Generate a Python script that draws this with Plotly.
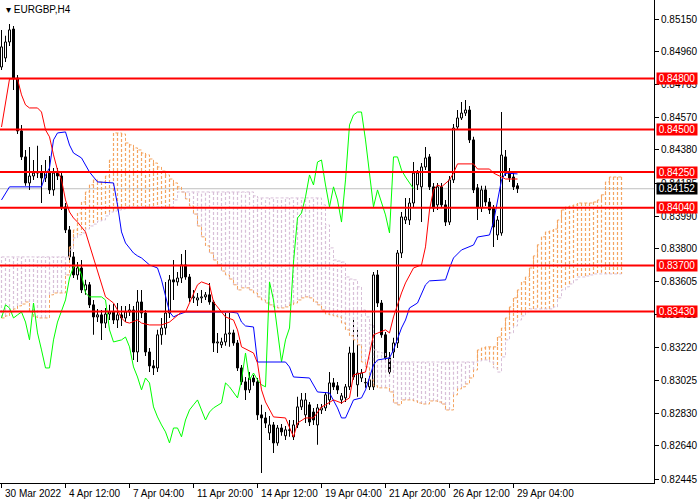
import plotly.graph_objects as go

# ---------------- data (EURGBP, H4) ----------------
open_ = [0.84868,0.84921,0.85015,0.85091,0.84803,0.84492,0.84339,0.84186,0.84227,0.84244,
         0.84250,0.84215,0.84250,0.84145,0.84244,0.84227,0.84045,0.83910,0.83751,0.83645,
         0.83686,0.83557,0.83587,0.83469,0.83398,0.83410,0.83362,0.83415,0.83427,0.83380,
         0.83410,0.83392,0.83427,0.83439,0.83192,0.83486,0.83421,0.83192,0.83110,0.83098,
         0.83293,0.83333,0.83421,0.83616,0.83604,0.83627,0.83704,0.83633,0.83510,0.83498,
         0.83510,0.83516,0.83528,0.83486,0.83245,0.83234,0.83251,0.83298,0.83304,0.83245,
         0.83098,0.83016,0.82969,0.83039,0.83016,0.82822,0.82804,0.82716,0.82763,0.82657,
         0.82745,0.82699,0.82734,0.82693,0.82763,0.82869,0.82822,0.82881,0.82839,0.82763,
         0.82851,0.82863,0.82910,0.83010,0.82993,0.82910,0.82922,0.82987,0.83186,0.82999,
         0.83039,0.83010,0.82987,0.82987,0.83645,0.83480,0.83293,0.83157,0.83192,0.83245,
         0.83774,0.83968,0.83968,0.84068,0.84175,0.84163,0.84280,0.84339,0.84163,0.84057,
         0.84163,0.84057,0.83956,0.84204,0.84515,0.84568,0.84597,0.84615,0.84439,0.84157,
         0.84039,0.84145,0.84074,0.84039,0.83880,0.83892,0.84339,0.84244,0.84221,0.84169]
high = [0.85086,0.85051,0.85120,0.85109,0.84821,0.84527,0.84380,0.84398,0.84321,0.84404,
        0.84292,0.84321,0.84345,0.84274,0.84274,0.84250,0.84068,0.83933,0.83780,0.83721,
        0.83733,0.83616,0.83604,0.83498,0.83445,0.83439,0.83451,0.83469,0.83474,0.83480,
        0.83463,0.83463,0.83474,0.83463,0.83557,0.83557,0.83439,0.83216,0.83145,0.83322,
        0.83392,0.83604,0.83645,0.83733,0.83662,0.83768,0.83792,0.83650,0.83557,0.83539,
        0.83557,0.83545,0.83598,0.83498,0.83304,0.83275,0.83421,0.83421,0.83322,0.83263,
        0.83116,0.83045,0.83074,0.83057,0.83039,0.82881,0.82839,0.82816,0.82780,0.82763,
        0.82768,0.82757,0.82792,0.82792,0.82928,0.82951,0.82951,0.82898,0.82863,0.82886,
        0.82886,0.82957,0.83074,0.83039,0.83016,0.82951,0.83004,0.83222,0.83380,0.83322,
        0.83092,0.83039,0.83051,0.83662,0.83674,0.83498,0.83310,0.83192,0.83275,0.83792,
        0.84015,0.84098,0.84098,0.84309,0.84262,0.84303,0.84398,0.84356,0.84186,0.84186,
        0.84186,0.84086,0.84227,0.84532,0.84615,0.84662,0.84674,0.84639,0.84457,0.84180,
        0.84169,0.84169,0.84098,0.84057,0.83992,0.84603,0.84380,0.84274,0.84250,0.84186]
low = [0.84850,0.84897,0.84992,0.84733,0.84474,0.84321,0.84169,0.84145,0.84204,0.84215,
       0.84068,0.84192,0.84121,0.84110,0.84204,0.84027,0.83892,0.83733,0.83627,0.83616,
       0.83539,0.83528,0.83451,0.83293,0.83368,0.83263,0.83333,0.83380,0.83356,0.83333,
       0.83345,0.83368,0.83404,0.83145,0.83133,0.83392,0.83169,0.83074,0.83057,0.83074,
       0.83234,0.83293,0.83392,0.83498,0.83581,0.83598,0.83616,0.83486,0.83480,0.83463,
       0.83480,0.83498,0.83469,0.83192,0.83186,0.83216,0.83228,0.83222,0.83228,0.83080,
       0.82999,0.82910,0.82951,0.82993,0.82792,0.82480,0.82745,0.82675,0.82598,0.82640,
       0.82699,0.82675,0.82693,0.82675,0.82745,0.82851,0.82774,0.82757,0.82763,0.82646,
       0.82827,0.82845,0.82881,0.82969,0.82945,0.82886,0.82898,0.82969,0.83028,0.82928,
       0.83016,0.82981,0.82969,0.82969,0.83457,0.83275,0.83133,0.83057,0.83157,0.83216,
       0.83745,0.83944,0.83939,0.84045,0.84145,0.83956,0.84262,0.84145,0.84015,0.84027,
       0.84039,0.83933,0.83939,0.84186,0.84498,0.84556,0.84580,0.84421,0.84127,0.83968,
       0.84015,0.84051,0.84004,0.83810,0.83851,0.83875,0.84227,0.84192,0.84145,0.84127]
close = [0.84986,0.85015,0.85086,0.84803,0.84492,0.84339,0.84186,0.84227,0.84244,0.84250,
         0.84215,0.84250,0.84145,0.84244,0.84227,0.84045,0.83910,0.83751,0.83645,0.83686,
         0.83557,0.83587,0.83469,0.83398,0.83410,0.83362,0.83415,0.83427,0.83380,0.83410,
         0.83392,0.83427,0.83439,0.83192,0.83486,0.83421,0.83192,0.83110,0.83098,0.83293,
         0.83333,0.83421,0.83616,0.83604,0.83627,0.83704,0.83633,0.83510,0.83516,0.83510,
         0.83516,0.83528,0.83486,0.83245,0.83251,0.83251,0.83298,0.83304,0.83245,0.83098,
         0.83016,0.82969,0.83039,0.83016,0.82822,0.82804,0.82774,0.82763,0.82657,0.82745,
         0.82722,0.82734,0.82731,0.82763,0.82869,0.82910,0.82910,0.82780,0.82792,0.82863,
         0.82863,0.82940,0.83010,0.82987,0.82969,0.82934,0.82987,0.83186,0.83045,0.83068,
         0.83068,0.83013,0.83028,0.83645,0.83480,0.83293,0.83157,0.83074,0.83245,0.83774,
         0.83986,0.83986,0.84068,0.84244,0.84244,0.84280,0.84333,0.84163,0.84039,0.84163,
         0.84057,0.83956,0.84204,0.84509,0.84568,0.84597,0.84615,0.84439,0.84145,0.84039,
         0.84145,0.84074,0.84027,0.83927,0.83968,0.84350,0.84244,0.84215,0.84163,0.84152]
bars = list(range(len(close)))

# Tenkan-sen (red)
tenkan_idx = [0,2,4,5,6,7,9,10,11,12,13,14,15,16,17,18,19,21,22,23,24,25,26,27,28,29,30,31,32,34,
              35,37,40,42,45,46,48,49,50,52,53,54,56,58,59,60,63,64,65,66,68,71,73,74,76,78,80,81,83,85,
              87,88,91,93,96,97,98,100,101,103,105,106,107,108,109,110,112,113,114,118,119,122,123,125,126,129]
tenkan_val = [0.84515,0.84797,0.84797,0.84704,0.84645,0.84627,0.84627,0.84603,0.84498,0.84457,
              0.84351,0.84262,0.84204,0.84086,0.84015,0.83980,0.83956,0.83898,0.83821,0.83745,
              0.83674,0.83598,0.83516,0.83498,0.83480,0.83439,0.83392,0.83368,0.83362,0.83380,
              0.83362,0.83351,0.83351,0.83368,0.83427,0.83427,0.83539,0.83587,0.83604,0.83587,
              0.83486,0.83457,0.83398,0.83380,0.83322,0.83222,0.83186,0.83127,0.82969,0.82898,
              0.82810,0.82804,0.82693,0.82774,0.82804,0.82804,0.82869,0.82881,0.82910,0.82892,
              0.82922,0.83057,0.83074,0.83293,0.83322,0.83304,0.83398,0.83539,0.83598,0.83686,
              0.83704,0.83810,0.84027,0.84145,0.84174,0.84163,0.84204,0.84244,0.84298,0.84298,
              0.84268,0.84268,0.84244,0.84221,0.84209,0.84209]

# Kijun-sen (blue)
kijun_idx = [0,2,10,11,12,13,14,16,17,18,20,22,24,28,29,30,31,33,34,35,
             37,39,40,41,42,43,44,46,57,59,60,61,63,64,71,72,73,77,79,82,
             84,85,86,88,90,91,93,94,97,98,99,100,101,102,104,105,106,107,111,112,
             113,115,118,119,122,123,124,125,126,129]
kijun_val = [0.84086,0.84163,0.84163,0.84233,0.84274,0.84439,0.84480,0.84486,0.84409,0.84362,
             0.84333,0.84250,0.84192,0.84186,0.84057,0.83898,0.83833,0.83774,0.83757,0.83745,
             0.83704,0.83686,0.83616,0.83528,0.83427,0.83398,0.83410,0.83427,0.83427,0.83421,
             0.83368,0.83345,0.83339,0.83133,0.83133,0.83104,0.83045,0.83039,0.82957,0.82951,
             0.82863,0.82804,0.82804,0.82910,0.82922,0.82969,0.83116,0.83145,0.83157,0.83204,
             0.83263,0.83333,0.83380,0.83451,0.83480,0.83539,0.83587,0.83610,0.83616,0.83686,
             0.83745,0.83792,0.83821,0.83868,0.83880,0.83956,0.84086,0.84204,0.84244,0.84239]

# Chikou span (green)
chikou_idx = [0,1,2,3,4,5,6,7,8,9,10,11,12,13,14,15,16,17,18,19,20,21,22,
              25,26,27,28,
              30,31,32,33,34,35,36,37,38,39,40,41,42,43,44,45,46,47,48,49,50,51,52,53,
              55,56,57,
              59,60,61,62,63,64,65,66,67,68,69,70,71,72,73,74,75,76,77,78,79,80,81,
              82,83,84,85,86,87,88,89,90,91,92,93,94,95,96,97,98,99,100,101,102,103]
chikou_val = [0.83392,0.83469,0.83451,0.83392,0.83410,0.83427,0.83368,0.83263,0.83480,0.83304,
              0.83204,0.83098,0.83098,0.83263,0.83368,0.83439,0.83498,0.83627,0.83692,0.83704,
              0.83645,0.83539,0.83516,
              0.83516,0.83498,0.83322,0.83251,
              0.83263,0.83280,0.83222,0.83104,0.83045,0.82969,0.83039,0.83010,0.82869,0.82810,
              0.82763,0.82722,0.82657,0.82745,0.82745,0.82693,0.82792,0.82851,0.82881,0.82910,
              0.82851,0.82792,0.82839,0.82863,
              0.82892,0.83010,0.82987,
              0.82922,0.83028,0.83186,0.83028,0.83068,0.83028,0.82999,0.82987,0.83604,0.83498,
              0.83322,0.83133,0.83263,0.83333,0.83721,0.83980,0.84009,0.84104,0.84233,0.84174,
              0.84309,0.84321,0.84174,0.84045,0.84163,0.84086,0.83956,0.84204,0.84527,0.84586,
              0.84603,0.84603,0.84439,0.84233,0.84045,0.84145,0.84068,0.83998,0.83892,0.84339,
              0.84339,0.84262,0.84221,0.84186,0.84152]

# Senkou span A / B (cloud, shifted forward)
span_a = [0.83392,0.83404,0.83427,0.83445,0.83463,0.83474,0.83486,0.83427,0.83398,0.83392,
          0.83392,0.83392,0.83528,0.83539,0.83539,0.83539,0.83645,0.83810,0.83910,0.84009,
          0.84074,0.84133,0.84175,0.84204,0.84192,0.84192,0.84227,0.84321,0.84480,0.84480,
          0.84474,0.84421,0.84410,0.84392,0.84380,0.84362,0.84351,0.84327,0.84303,0.84280,
          0.84256,0.84233,0.84209,0.84186,0.84163,0.84133,0.84092,0.84051,0.84003,0.83933,
          0.83869,0.83816,0.83774,0.83733,0.83704,0.83668,0.83645,0.83621,0.83587,0.83557,
          0.83569,0.83569,0.83557,0.83539,0.83516,0.83498,0.83480,0.83469,0.83457,0.83451,
          0.83451,0.83457,0.83469,0.83480,0.83498,0.83510,0.83516,0.83510,0.83486,0.83469,
          0.83439,0.83415,0.83410,0.83404,0.83398,0.83362,0.83322,0.83287,0.83263,0.83234,
          0.83133,0.83104,0.83028,0.82993,0.82981,0.82981,0.82981,0.82957,0.82892,0.82881,
          0.82910,0.82910,0.82910,0.82904,0.82892,0.82886,0.82886,0.82904,0.82904,0.82898,
          0.82886,0.82851,0.82851,0.82940,0.82975,0.82987,0.83004,0.83039,0.83086,0.83204,
          0.83216,0.83222,0.83222,0.83222,0.83280,0.83333,0.83392,0.83457,0.83510,0.83557,
          0.83604,0.83633,0.83686,0.83757,0.83822,0.83869,0.83898,0.83904,0.83915,0.83968,
          0.84027,0.84045,0.84051,0.84057,0.84068,0.84068,0.84068,0.84068,0.84074,0.84086,
          0.84116,0.84192,0.84221,0.84221,0.84221,0.84221]
span_b = [0.83751,0.83751,0.83751,0.83751,0.83751,0.83751,0.83751,0.83751,0.83751,0.83751,
          0.83751,0.83751,0.83751,0.83751,0.83751,0.83751,0.83751,0.83792,0.83863,0.83881,
          0.83892,0.83915,0.83933,0.83944,0.83962,0.83968,0.83992,0.84015,0.84021,0.84027,
          0.84033,0.84045,0.84045,0.84045,0.84045,0.84045,0.84045,0.84045,0.84045,0.84045,
          0.84045,0.84045,0.84045,0.84086,0.84133,0.84133,0.84133,0.84133,0.84133,0.84133,
          0.84133,0.84133,0.84133,0.84133,0.84133,0.84133,0.84133,0.84133,0.84133,0.84133,
          0.84133,0.84133,0.84133,0.84110,0.84098,0.84098,0.84098,0.84098,0.84098,0.84098,
          0.84098,0.84098,0.84098,0.84098,0.84098,0.84098,0.84098,0.84098,0.84098,0.84098,
          0.84057,0.83939,0.83804,0.83733,0.83727,0.83721,0.83633,0.83621,0.83616,0.83575,
          0.83439,0.83398,0.83351,0.83204,0.83192,0.83186,0.83157,0.83145,0.83133,0.83133,
          0.83133,0.83133,0.83133,0.83133,0.83133,0.83133,0.83133,0.83133,0.83133,0.83133,
          0.83133,0.83133,0.83133,0.83133,0.83133,0.83133,0.83133,0.83133,0.83133,0.83139,
          0.83145,0.83145,0.83133,0.83098,0.83074,0.83163,0.83263,0.83304,0.83345,0.83380,
          0.83404,0.83427,0.83445,0.83445,0.83445,0.83445,0.83445,0.83445,0.83457,0.83510,
          0.83557,0.83575,0.83592,0.83616,0.83633,0.83633,0.83639,0.83645,0.83651,0.83651,
          0.83651,0.83651,0.83651,0.83651,0.83651,0.83651]
cloud_bars = list(range(len(span_a)))

levels = [0.84800, 0.84500, 0.84250, 0.84040, 0.83700, 0.83430]
level_text = ["0.84800", "0.84500", "0.84250", "0.84040", "0.83700", "0.83430"]
last_price = 0.84152
last_text = "0.84152"

y_ticks = [0.85150,0.84960,0.84765,0.84570,0.84380,0.84185,0.83990,0.83800,
           0.83605,0.83410,0.83220,0.83025,0.82830,0.82640,0.82445]
y_tick_text = ["0.85150","0.84960","0.84765","0.84570","0.84380","0.84185","0.83990","0.83800",
               "0.83605","0.83410","0.83220","0.83025","0.82830","0.82640","0.82445"]
x_tick_bars = [0, 16, 32, 48, 64, 80, 96, 112, 128]
x_tick_text = ["30 Mar 2022", "4 Apr 12:00", "7 Apr 04:00", "11 Apr 20:00", "14 Apr 12:00",
               "19 Apr 04:00", "21 Apr 20:00", "26 Apr 12:00", "29 Apr 04:00"]

# ---------------- colours / fonts ----------------
ORANGE = "#F4A460"
THISTLE = "#D8BFD8"
FONT = "Liberation Sans"

fig = go.Figure()

# cloud hatching (vertical dashed lines per bar)
hx_up, hy_up, hx_dn, hy_dn = [], [], [], []
for b, a, s in zip(cloud_bars, span_a, span_b):
    if a >= s:
        hx_up += [b, b, None]; hy_up += [a, s, None]
    else:
        hx_dn += [b, b, None]; hy_dn += [a, s, None]
fig.add_trace(go.Scatter(x=hx_up, y=hy_up, mode="lines",
                         line=dict(color=ORANGE, width=1.2, dash="3px,2px"),
                         hoverinfo="skip", showlegend=False))
fig.add_trace(go.Scatter(x=hx_dn, y=hy_dn, mode="lines",
                         line=dict(color=THISTLE, width=1.2, dash="3px,2px"),
                         hoverinfo="skip", showlegend=False))
fig.add_trace(go.Scatter(x=cloud_bars, y=span_a, mode="lines", line_shape="hv",
                         line=dict(color=ORANGE, width=1, dash="3px,2px"),
                         hoverinfo="skip", showlegend=False))
fig.add_trace(go.Scatter(x=cloud_bars, y=span_b, mode="lines", line_shape="hv",
                         line=dict(color=THISTLE, width=1, dash="3px,2px"),
                         hoverinfo="skip", showlegend=False))

# candles: wicks (thin bars) then bodies, both in the bar layer (drawn in trace order)
wick_len = [h - l for h, l in zip(high, low)]
fig.add_trace(go.Bar(x=bars, y=wick_len, base=low, width=0.25,
                     marker=dict(color="black", line=dict(width=0)),
                     hoverinfo="skip", showlegend=False))
body_base = [min(o, c) for o, c in zip(open_, close)]
body_len = [max(abs(c - o), 0.000015) for o, c in zip(open_, close)]
body_fill = ["white" if c >= o else "black" for o, c in zip(open_, close)]
fig.add_trace(go.Bar(x=bars, y=body_len, base=body_base, width=0.5,
                     marker=dict(color=body_fill, line=dict(color="black", width=1)),
                     hoverinfo="skip", showlegend=False))

# ichimoku lines
fig.add_trace(go.Scatter(x=chikou_idx, y=chikou_val, mode="lines",
                         line=dict(color="#00FF00", width=1), showlegend=False, hoverinfo="skip"))
fig.add_trace(go.Scatter(x=kijun_idx, y=kijun_val, mode="lines",
                         line=dict(color="#0000FF", width=1), showlegend=False, hoverinfo="skip"))
fig.add_trace(go.Scatter(x=tenkan_idx, y=tenkan_val, mode="lines",
                         line=dict(color="#FF0000", width=1), showlegend=False, hoverinfo="skip"))

shapes = [dict(type="line", xref="paper", x0=0, x1=1, yref="y", y0=last_price, y1=last_price,
               line=dict(color="#C0C0C0", width=1), layer="below")]
for lv in levels:
    shapes.append(dict(type="line", xref="paper", x0=0, x1=1, yref="y", y0=lv, y1=lv,
                       line=dict(color="#FF0000", width=2), layer="above"))

annotations = []
for lv, t in zip(levels, level_text):
    annotations.append(dict(x=1, xref="paper", y=lv, yref="y", xanchor="left", yanchor="middle",
                            xshift=2, text=t, showarrow=False, bgcolor="#FF0000",
                            font=dict(family=FONT, size=10, color="white"),
                            width=40, height=11, borderpad=0))
annotations.append(dict(x=1, xref="paper", y=last_price, yref="y", xanchor="left", yanchor="middle",
                        xshift=2, text=last_text, showarrow=False, bgcolor="black",
                        font=dict(family=FONT, size=10, color="white"),
                        width=40, height=11, borderpad=0))
for b, t in zip(x_tick_bars, x_tick_text):
    annotations.append(dict(x=b, xref="x", y=0, yref="paper", xanchor="left", yanchor="top",
                            yshift=-3, xshift=1, text=t, showarrow=False,
                            font=dict(family=FONT, size=10, color="black")))
annotations.append(dict(x=0, xref="paper", y=1, yref="paper", xanchor="left", yanchor="top",
                        xshift=4, yshift=-2, text="▾ EURGBP,H4", showarrow=False,
                        font=dict(family=FONT, size=10, color="black")))

fig.update_layout(
    width=700, height=500,
    margin=dict(l=0, r=46, t=0, b=17),
    paper_bgcolor="white", plot_bgcolor="white",
    showlegend=False, barmode="overlay",
    shapes=shapes, annotations=annotations,
    xaxis=dict(range=[-0.375, 163.125], showgrid=False, zeroline=False, showline=True,
               linecolor="black", linewidth=1, ticks="outside", ticklen=4, tickcolor="black",
               tickvals=x_tick_bars, showticklabels=False, fixedrange=True),
    yaxis=dict(side="right", range=[0.824215, 0.852618], showgrid=False, zeroline=False,
               showline=True, linecolor="black", linewidth=1, ticks="outside", ticklen=4,
               tickcolor="black", tickvals=y_ticks, ticktext=y_tick_text,
               tickfont=dict(family=FONT, size=10, color="black"), fixedrange=True),
)

fig.write_html("out.html", config={"displayModeBar": False},
               post_script="document.body.style.margin='0px';document.body.style.overflow='hidden';")
